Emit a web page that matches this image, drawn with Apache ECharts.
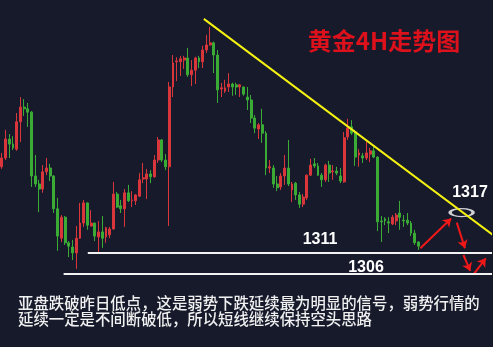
<!DOCTYPE html>
<html>
<head>
<meta charset="utf-8">
<script src="https://cdn.jsdelivr.net/npm/echarts@6/dist/echarts.min.js"></script>
<style>
  html, body { margin: 0; padding: 0; background: #161a2b; }
  #chart { width: 493px; height: 347px; }
</style>
</head>
<body>
<div id="chart"></div>
<script>
// 4H candles, [open, close, low, high]
var ohlc = [
  [1331.5, 1333.6, 1331.0, 1334.8], [1333.6, 1338.1, 1333.1, 1340.3], [1338.1, 1336.9, 1333.6, 1339.3],
  [1336.9, 1336.0, 1335.5, 1338.8], [1335.7, 1342.2, 1335.3, 1344.3], [1342.2, 1345.7, 1337.4, 1348.1],
  [1345.7, 1345.3, 1343.6, 1347.6], [1345.3, 1344.5, 1341.0, 1346.7], [1344.5, 1329.3, 1326.7, 1344.8],
  [1329.3, 1327.4, 1326.7, 1334.3], [1327.4, 1326.2, 1320.7, 1328.4], [1326.2, 1330.3, 1325.3, 1331.9],
  [1330.3, 1331.2, 1329.5, 1333.6], [1331.2, 1329.3, 1328.1, 1332.2], [1329.3, 1321.5, 1320.5, 1329.5],
  [1321.5, 1315.0, 1311.5, 1324.1], [1314.5, 1319.5, 1313.6, 1320.0], [1319.5, 1313.4, 1312.9, 1319.8],
  [1313.4, 1312.6, 1310.0, 1313.8], [1312.4, 1311.0, 1309.3, 1314.1], [1311.0, 1314.5, 1307.2, 1317.4],
  [1314.5, 1318.1, 1314.3, 1322.9], [1318.1, 1322.9, 1317.2, 1323.6], [1322.9, 1317.6, 1316.5, 1323.0],
  [1317.4, 1318.1, 1317.3, 1321.2], [1318.1, 1315.0, 1313.8, 1318.2], [1314.8, 1316.0, 1311.2, 1318.6],
  [1316.0, 1314.5, 1312.2, 1319.8], [1314.8, 1317.0, 1313.4, 1317.2], [1315.3, 1316.7, 1314.5, 1317.2],
  [1316.7, 1325.0, 1316.5, 1327.9], [1325.0, 1321.9, 1321.7, 1325.5], [1322.2, 1321.5, 1320.5, 1323.6],
  [1321.5, 1325.3, 1317.2, 1326.2], [1325.3, 1323.4, 1323.1, 1327.2], [1323.4, 1323.6, 1321.9, 1325.7],
  [1323.4, 1324.8, 1322.4, 1325.0], [1324.5, 1328.4, 1324.3, 1330.0], [1328.6, 1328.9, 1327.6, 1332.4],
  [1328.6, 1329.8, 1323.8, 1331.0], [1329.8, 1329.1, 1327.6, 1330.7], [1329.1, 1333.1, 1328.9, 1334.3],
  [1333.1, 1337.9, 1332.4, 1338.6], [1337.9, 1333.1, 1332.6, 1338.1], [1333.1, 1331.5, 1330.7, 1334.5],
  [1331.5, 1350.5, 1317.4, 1351.7], [1350.5, 1356.2, 1348.1, 1358.1], [1356.5, 1356.7, 1351.9, 1357.6],
  [1356.5, 1357.2, 1353.1, 1357.9], [1356.9, 1357.4, 1354.8, 1357.9], [1357.4, 1353.4, 1352.9, 1359.8],
  [1353.4, 1354.5, 1350.7, 1356.9], [1354.5, 1357.4, 1351.2, 1357.7], [1357.4, 1356.5, 1355.0, 1357.9],
  [1356.5, 1359.3, 1355.0, 1360.3], [1359.3, 1360.5, 1358.6, 1362.9], [1360.5, 1361.0, 1360.3, 1364.8],
  [1361.0, 1358.1, 1353.8, 1361.3], [1358.1, 1349.8, 1346.7, 1359.3], [1350.0, 1350.3, 1348.1, 1351.5],
  [1349.5, 1350.3, 1349.1, 1352.2], [1350.5, 1351.2, 1349.3, 1353.8], [1351.2, 1350.5, 1348.4, 1351.5],
  [1351.0, 1350.5, 1348.6, 1351.5], [1350.5, 1351.0, 1348.1, 1351.2], [1350.5, 1348.8, 1348.4, 1350.6],
  [1348.1, 1347.4, 1345.0, 1350.5], [1347.4, 1343.1, 1341.9, 1348.6], [1343.1, 1340.7, 1339.5, 1343.8],
  [1340.5, 1341.5, 1338.1, 1341.9], [1341.5, 1339.5, 1337.2, 1345.3], [1339.5, 1331.2, 1329.5, 1340.0],
  [1331.2, 1331.5, 1330.0, 1333.1], [1331.2, 1327.4, 1326.5, 1331.9], [1327.4, 1326.5, 1325.7, 1329.3],
  [1326.7, 1329.3, 1326.0, 1330.0], [1329.3, 1331.2, 1327.2, 1334.3], [1331.2, 1327.4, 1326.9, 1337.9],
  [1326.0, 1327.4, 1323.1, 1327.9], [1327.6, 1324.8, 1323.6, 1327.9], [1324.8, 1322.6, 1321.7, 1325.5],
  [1322.6, 1324.3, 1321.9, 1325.0], [1324.1, 1329.5, 1323.6, 1329.7], [1329.5, 1331.9, 1329.3, 1333.4],
  [1332.2, 1331.7, 1331.2, 1333.6], [1331.7, 1329.5, 1329.3, 1332.4], [1329.5, 1328.4, 1326.7, 1330.0],
  [1328.4, 1331.9, 1327.9, 1332.2], [1331.9, 1330.0, 1327.9, 1332.9], [1330.3, 1330.5, 1328.4, 1331.9],
  [1330.5, 1330.0, 1329.5, 1331.5], [1329.3, 1328.1, 1327.6, 1331.2], [1327.9, 1338.4, 1327.7, 1339.8],
  [1338.6, 1340.7, 1337.9, 1342.9], [1341.0, 1339.5, 1339.1, 1342.6], [1339.8, 1333.8, 1331.7, 1340.3],
  [1334.3, 1334.8, 1331.5, 1335.7], [1334.1, 1333.6, 1332.4, 1334.8], [1333.6, 1334.8, 1333.1, 1337.4],
  [1334.5, 1335.3, 1332.6, 1336.0], [1335.3, 1333.8, 1333.6, 1336.2], [1333.8, 1318.4, 1316.2, 1334.0],
  [1318.6, 1318.4, 1313.6, 1319.8], [1319.1, 1318.6, 1317.6, 1319.5], [1318.4, 1318.1, 1315.7, 1319.5],
  [1317.9, 1319.5, 1317.6, 1320.0], [1318.6, 1320.0, 1317.6, 1320.5], [1320.5, 1319.5, 1316.5, 1323.4],
  [1318.8, 1318.6, 1317.2, 1320.0], [1318.8, 1318.1, 1317.6, 1320.5], [1318.1, 1315.7, 1315.0, 1318.6],
  [1315.7, 1313.4, 1312.9, 1316.5], [1313.6, 1312.6, 1311.7, 1313.7]
];

// bar slots on the time axis (candles plus empty room on the right)
var slotCount = 132;
var categories = [];
for (var i = 0; i < slotCount; i++) categories.push('K' + (i + 1));

// hand-drawn annotations, in [bar index, price]
var trendLine = [[54.3, 1366.7], [132.0, 1315.3]];
var level1311 = [[23.1, 1311], [132.0, 1311]];
var level1306 = [[16.6, 1306], [132.0, 1306]];
var targetMark = [[123.6, 1320.6]];
var arrows = [
  [[112.5, 1312.1], [120.8, 1319.2]],
  [[122.3, 1318.2], [124.5, 1312.1]],
  [[124.1, 1310.5], [125.9, 1306.7]],
  [[126.9, 1306.0], [130.1, 1309.7]]
];

var title = '黄金4H走势图';
var noteLines = [
  '亚盘跌破昨日低点，这是弱势下跌延续最为明显的信号，弱势行情的',
  '延续一定是不间断破低，所以短线继续保持空头思路'
];

var upColor = '#d8363a';
var downColor = '#3aac36';

var myChart = echarts.init(document.getElementById('chart'));

var option = {
  backgroundColor: '#161a2b',
  animation: false,
  grid: { left: -1, right: 2, top: 0, bottom: 0 },
  xAxis: [
    { type: 'category', data: categories, show: false, boundaryGap: true },
    { type: 'value', min: -0.5, max: slotCount - 0.5, show: false }
  ],
  yAxis: { type: 'value', min: 1288.6, max: 1371.2, show: false },
  series: [
    {
      type: 'candlestick',
      data: ohlc,
      barWidth: 2.4,
      itemStyle: {
        color: upColor,
        color0: downColor,
        borderColor: upColor,
        borderColor0: downColor,
        borderWidth: 1
      }
    },
    {
      type: 'line', xAxisIndex: 1, data: level1311, symbol: 'none', clip: false,
      lineStyle: { color: '#f2f2f2', width: 2 }
    },
    {
      type: 'line', xAxisIndex: 1, data: level1306, symbol: 'none', clip: false,
      lineStyle: { color: '#f2f2f2', width: 2 }
    },
    {
      type: 'line', xAxisIndex: 1, data: trendLine, symbol: 'none', clip: false,
      lineStyle: { color: '#f5f212', width: 2 }
    },
    {
      type: 'scatter', xAxisIndex: 1, data: targetMark, symbol: 'circle', symbolSize: [23, 8],
      itemStyle: { color: 'rgba(0,0,0,0)', borderColor: '#ffffff', borderWidth: 2 }
    },
    {
      type: 'lines', coordinateSystem: 'cartesian2d', xAxisIndex: 1,
      symbol: ['none', 'arrow'], symbolSize: 8,
      lineStyle: { color: '#f01818', width: 2, opacity: 1, curveness: 0 },
      data: arrows.map(function (a) { return { coords: a }; })
    }
  ],
  graphic: [
    {
      type: 'text', x: 384, y: 41,
      style: { text: title, fill: '#dc111b', align: 'center', verticalAlign: 'middle',
        font: 'bold 24px "Noto Sans CJK SC", sans-serif' }
    },
    {
      type: 'text', x: 470, y: 193,
      style: { text: '1317', fill: '#ffffff', align: 'center', verticalAlign: 'middle',
        font: 'bold 16px "Liberation Sans", Arial, sans-serif' }
    },
    {
      type: 'text', x: 320, y: 240,
      style: { text: '1311', fill: '#ffffff', align: 'center', verticalAlign: 'middle',
        font: 'bold 16px "Liberation Sans", Arial, sans-serif' }
    },
    {
      type: 'text', x: 366, y: 268,
      style: { text: '1306', fill: '#ffffff', align: 'center', verticalAlign: 'middle',
        font: 'bold 16px "Liberation Sans", Arial, sans-serif' }
    },
    {
      type: 'text', x: 18, y: 303,
      style: { text: noteLines[0], fill: '#f0f0f0', align: 'left', verticalAlign: 'middle',
        font: '500 15.4px "Noto Sans CJK SC", sans-serif' }
    },
    {
      type: 'text', x: 18, y: 319,
      style: { text: noteLines[1], fill: '#f0f0f0', align: 'left', verticalAlign: 'middle',
        font: '500 15.4px "Noto Sans CJK SC", sans-serif' }
    }
  ]
};

myChart.setOption(option);
</script>
</body>
</html>
